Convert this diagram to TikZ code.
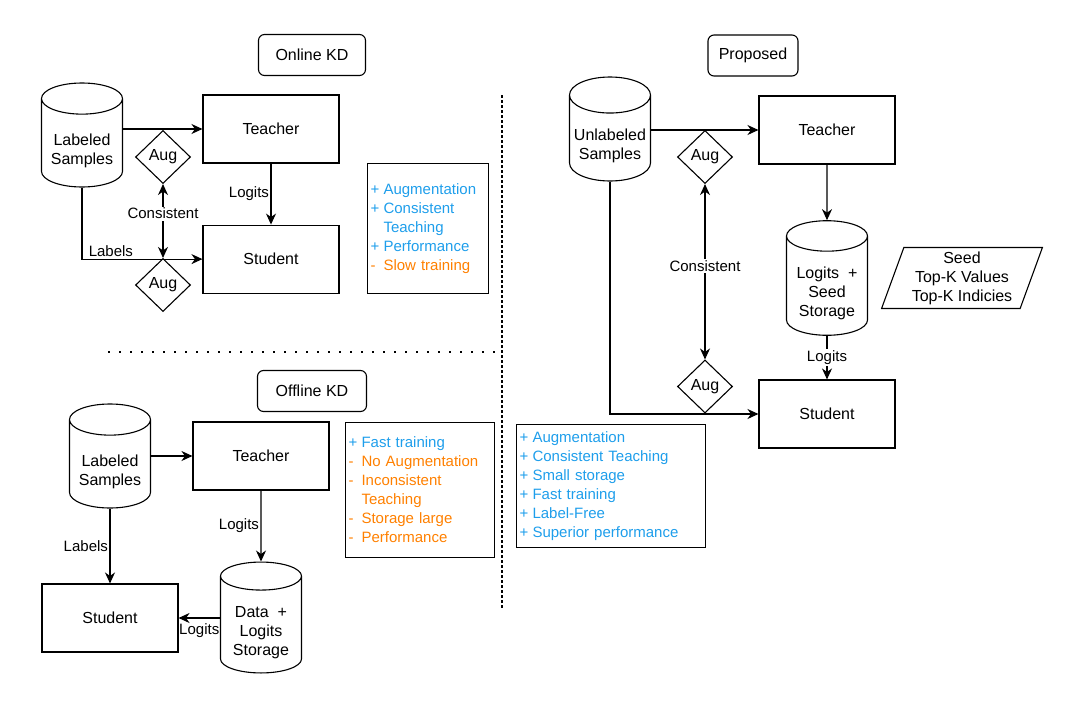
\documentclass[tikz,border=0pt]{standalone}
\usepackage{fontspec}
\setmainfont{Liberation Sans}
\usetikzlibrary{positioning, arrows.meta, shapes.geometric}

\definecolor{goodblue}{RGB}{30,158,235}
\definecolor{badorange}{RGB}{255,128,0}
\newcommand{\good}[1]{\textcolor{goodblue}{\makebox[13pt][l]{+}#1}}
\newcommand{\bad}[1]{\textcolor{badorange}{\makebox[13pt][l]{-}#1}}
\newcommand{\goodcont}[1]{\textcolor{goodblue}{\hspace*{13pt}#1}}
\newcommand{\badcont}[1]{\textcolor{badorange}{\hspace*{13pt}#1}}
% text of a cylinder sits low, in its body
\newcommand{\dbtxt}[1]{\mbox{}\\[8pt]#1}

\begin{document}
\begin{tikzpicture}[
    x=1pt, y=-1pt, line width=1.1pt,
    font=\fontsize{16}{19}\selectfont,
    title/.style = {draw, rectangle, rounded corners=6pt,
                    minimum height=41pt, inner sep=0pt},
    model/.style = {draw, rectangle, minimum width=136pt, minimum height=68pt},
    db/.style = {draw, cylinder, shape border rotate=90, aspect=0.5,
                 minimum width=81pt, minimum height=104pt,
                 anchor=shape center, align=center, inner sep=0pt},
    aug/.style = {draw, diamond, minimum width=55pt, minimum height=53pt, inner sep=0pt},
    notes/.style = {draw, rectangle, align=left, anchor=north west, inner xsep=3pt,
                    font=\fontsize{15}{19}\selectfont},
    arrow/.style = {-{Stealth[length=11pt, width=10pt, inset=3.5pt]}},
    twoway/.style = {{Stealth[length=11pt, width=10pt, inset=3.5pt]}-{Stealth[length=11pt, width=10pt, inset=3.5pt]}},
    lbl/.style = {font=\fontsize{15}{17}\selectfont, inner sep=1.5pt}
]
\useasboundingbox (0,0) rectangle (1080,707);

% Online KD
\node[title, minimum width=107pt] (online) at (312,55) {Online KD};
\node[db] (lab1) at (82,135) {\dbtxt{Labeled\\Samples}};
\node[model] (tch1) at (271,129) {Teacher};
\node[model, below=61pt of tch1] (stu1) {Student};
\node[aug] (aug1) at (163,157) {Aug};
\node[aug] (aug2) at (163,285) {Aug};
\node[notes, text width=115pt, minimum height=130pt] (pro1) at (367,163)
    {\good{Augmentation}\\\good{Consistent}\\\goodcont{Teaching}\\\good{Performance}\\\bad{Slow training}};

\draw[arrow] (lab1.east |- tch1.west) -- (tch1.west);
\draw[arrow] (lab1.south) |- node[lbl, above, pos=0.62] {Labels} (stu1.west);
\draw[arrow] (tch1) -- node[lbl, left] {Logits} (stu1);
\draw[twoway] (aug1.south) -- node[lbl, fill=white, pos=0.4] {Consistent} (aug2.north);

% Offline KD
\node[title, minimum width=109pt] (offline) at (312,391) {Offline KD};
\node[db] (lab2) at (110,456) {\dbtxt{Labeled\\Samples}};
\node[model] (tch2) at (261,456) {Teacher};
\node[model] (stu2) at (110,618) {Student};
\node[db] (store1) at (261,617.5) {\dbtxt{Data\ \ +\\Logits\\Storage}};
\node[notes, text width=143pt, minimum height=135pt] (con2) at (345,422)
    {\good{Fast training}\\\bad{No Augmentation}\\\bad{Inconsistent}\\\badcont{Teaching}\\\bad{Storage large}\\\bad{Performance}};

\draw[arrow] (lab2.east |- tch2.west) -- (tch2.west);
\draw[arrow] (lab2.south) -- node[lbl, left] {Labels} (stu2.north);
\draw[arrow] (tch2.south) -- node[lbl, left] {Logits} (store1.north);
\draw[arrow] (store1.west |- stu2.east) -- node[lbl, below, yshift=-4pt] {Logits} (stu2.east);

% Proposed
\node[title, minimum width=90pt] (proposed) at (753,55.5) {Proposed};
\node[db] (unl) at (610,129) {\dbtxt{Unlabeled\\Samples}};
\node[model] (tch3) at (827,130) {Teacher};
\node[db] (store2) at (827,278) {\dbtxt{Logits\ \ +\\Seed\\Storage}};
\node[model] (stu3) at (827,414) {Student};
\node[aug] (aug3) at (705,157) {Aug};
\node[aug] (aug4) at (705,386.5) {Aug};
\node[draw, trapezium, trapezium left angle=70, trapezium right angle=110,
      trapezium stretches=true, minimum width=161pt, minimum height=61pt,
      align=center, inner sep=0pt] (seed) at (962,278)
    {Seed\\Top-K Values\\Top-K Indicies};
\node[notes, text width=183pt, minimum height=123pt] (pro3) at (516,424)
    {\good{Augmentation}\\\good{Consistent Teaching}\\\good{Small storage}\\\good{Fast training}\\\good{Label-Free}\\\good{Superior performance}};

\draw[arrow] (unl.east |- tch3.west) -- (tch3.west);
\draw[arrow] (tch3) -- (store2);
\draw[arrow] (store2.south) -- node[lbl, fill=white] {Logits} (stu3.north);
\draw[arrow] (unl.south) |- (stu3.west);
\draw[twoway] (aug3.south) -- node[lbl, fill=white, pos=0.47] {Consistent} (aug4.north);

% dividers
\draw[dash pattern=on 3pt off 2pt] (502,95) -- (502,608);
\draw[line width=1.8pt, dash pattern=on 1.8pt off 9.2pt] (108,352) -- (500,352);
\end{tikzpicture}
\end{document}
